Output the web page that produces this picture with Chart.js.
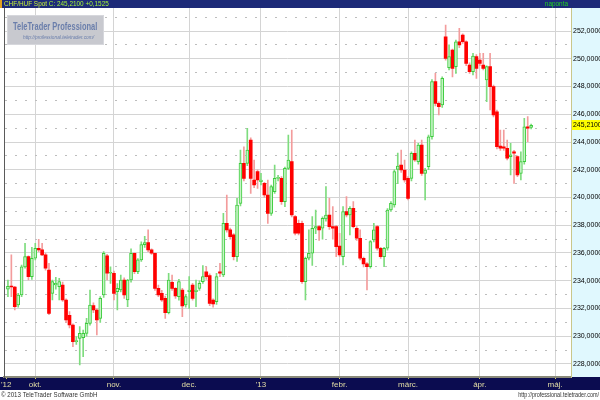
<!DOCTYPE html>
<html>
<head>
<meta charset="utf-8">
<title>CHF/HUF Spot</title>
<script src="https://cdn.jsdelivr.net/npm/chart.js@4.4.1/dist/chart.umd.min.js"></script>
<style>
  html, body { margin: 0; padding: 0; background: #fff; }
  #wrap { width: 600px; height: 400px; }
</style>
</head>
<body>
<div id="wrap"><canvas id="chart" width="600" height="400"></canvas></div>
<script>
// daily candles, 19 Sep 2012 .. 22 Apr 2013 (weekdays)
const opens = [
  233.40, 233.60, 233.55, 232.25, 232.97, 235.00, 235.74, 234.29, 235.62, 236.34,
  236.22, 235.86, 234.77, 233.09, 233.69, 233.57, 233.69, 232.61, 231.50, 230.81,
  229.61, 229.85, 229.90, 230.21, 230.93, 232.20, 231.89, 231.29, 232.97, 235.80,
  234.54, 234.54, 233.21, 233.33, 234.05, 232.61, 234.05, 235.98, 234.65, 235.50,
  236.60, 236.75, 236.22, 235.98, 233.45, 233.09, 232.73, 231.70, 233.89, 233.45,
  232.85, 233.33, 232.25, 233.21, 233.69, 233.21, 233.45, 233.93, 234.65, 234.37,
  232.61, 232.49, 234.65, 234.41, 238.14, 237.66, 237.30, 235.74, 239.58, 242.46,
  242.46, 244.14, 241.26, 241.86, 241.14, 241.02, 240.18, 238.86, 240.42, 241.38,
  241.38, 239.70, 242.10, 242.58, 238.62, 238.14, 238.14, 233.93, 235.62, 235.98,
  237.78, 237.90, 237.78, 238.45, 238.74, 237.90, 237.90, 236.50, 235.74, 238.98,
  238.74, 239.22, 237.78, 237.06, 235.62, 235.21, 235.01, 236.94, 237.90, 236.34,
  235.74, 236.34, 239.10, 239.46, 242.03, 242.34, 241.98, 241.38, 241.38, 243.18,
  242.58, 243.78, 241.74, 242.22, 244.38, 248.35, 246.79, 246.67, 251.59, 249.35,
  250.63, 249.43, 251.23, 251.71, 251.23, 249.55, 249.07, 250.15, 249.91, 249.55,
  248.47, 249.43, 247.99, 246.18, 243.71, 243.66, 243.55, 242.95, 243.30, 242.95,
  241.74, 242.58, 245.10, 245.06
];
const highs = [
  234.05, 235.86, 233.60, 233.10, 235.13, 236.70, 235.80, 236.40, 236.70, 236.99,
  236.70, 236.00, 235.26, 234.05, 234.25, 234.17, 233.90, 232.70, 231.77, 230.90,
  229.97, 230.69, 230.45, 231.29, 233.33, 232.40, 232.00, 232.85, 236.10, 235.90,
  235.00, 234.70, 233.80, 234.40, 234.20, 234.10, 236.30, 236.00, 235.60, 236.80,
  237.20, 237.66, 236.30, 236.00, 233.69, 233.30, 232.90, 234.54, 234.41, 233.50,
  234.10, 233.45, 233.00, 234.29, 233.81, 234.05, 234.00, 235.10, 235.01, 234.50,
  232.70, 234.54, 235.26, 238.86, 240.18, 237.80, 237.40, 239.94, 243.42, 243.66,
  244.99, 244.30, 242.70, 242.00, 241.74, 241.10, 241.26, 240.90, 242.34, 241.60,
  241.50, 242.20, 244.50, 244.86, 238.70, 238.38, 238.30, 235.70, 237.66, 238.62,
  239.10, 238.00, 238.60, 240.78, 239.94, 239.34, 238.00, 237.42, 239.34, 240.06,
  239.34, 239.70, 237.90, 237.66, 235.70, 235.30, 236.90, 238.14, 238.00, 236.40,
  236.40, 239.20, 239.70, 242.00, 243.20, 243.42, 242.70, 241.50, 243.30, 244.14,
  243.90, 244.14, 242.10, 244.50, 248.50, 248.95, 246.90, 248.70, 252.43, 251.00,
  250.70, 251.35, 252.19, 251.80, 251.30, 249.70, 250.39, 250.30, 250.39, 250.39,
  249.50, 250.39, 248.10, 246.30, 244.86, 244.86, 244.14, 243.90, 243.40, 243.00,
  243.30, 245.71, 245.83, 245.30
];
const lows = [
  232.85, 232.85, 231.89, 232.10, 232.85, 234.90, 234.05, 234.10, 235.50, 236.10,
  235.80, 234.77, 231.55, 232.61, 233.40, 232.61, 232.50, 231.00, 230.60, 229.25,
  229.40, 227.93, 228.53, 230.00, 230.80, 231.70, 230.09, 231.00, 232.80, 234.05,
  233.80, 232.61, 231.89, 233.20, 232.73, 232.13, 233.90, 234.50, 234.50, 235.40,
  236.40, 236.10, 235.90, 233.30, 232.85, 232.50, 231.29, 231.60, 233.30, 232.73,
  232.60, 231.40, 232.10, 232.00, 232.60, 232.13, 233.30, 233.80, 234.10, 232.20,
  232.10, 232.30, 234.29, 234.30, 237.50, 237.00, 235.50, 235.40, 239.40, 241.20,
  242.30, 240.30, 240.70, 240.66, 240.90, 240.00, 238.14, 238.70, 240.30, 241.20,
  239.50, 239.34, 242.00, 238.60, 237.30, 237.30, 233.80, 232.61, 235.50, 235.10,
  237.40, 236.90, 237.00, 238.30, 237.70, 237.00, 235.74, 235.74, 235.14, 238.60,
  237.30, 237.80, 236.90, 235.50, 235.00, 233.33, 234.90, 236.80, 236.20, 235.60,
  235.01, 236.20, 239.00, 239.30, 241.00, 241.80, 241.10, 239.82, 241.20, 242.60,
  242.40, 241.60, 239.82, 242.00, 244.20, 246.60, 245.95, 246.50, 249.90, 249.20,
  248.70, 248.95, 250.80, 251.10, 249.50, 248.95, 248.83, 248.59, 249.50, 249.19,
  246.90, 246.31, 245.80, 243.50, 243.40, 243.40, 242.70, 241.62, 241.02, 241.50,
  241.26, 242.40, 244.02, 244.95
];
const closes = [
  233.60, 233.55, 232.13, 232.97, 235.00, 235.74, 234.29, 235.62, 236.34, 236.22,
  235.86, 234.90, 231.65, 233.93, 233.81, 233.93, 232.61, 231.17, 230.81, 229.61,
  229.65, 230.21, 230.20, 230.93, 232.25, 231.89, 231.17, 232.73, 235.98, 234.54,
  234.60, 233.09, 233.45, 234.05, 232.97, 234.05, 235.98, 234.65, 235.50, 236.60,
  236.75, 236.22, 235.98, 233.45, 232.97, 232.61, 231.70, 234.05, 233.45, 232.90,
  233.93, 232.18, 232.85, 233.33, 232.73, 233.33, 233.81, 234.29, 234.29, 232.37,
  232.32, 234.29, 234.54, 238.14, 237.66, 237.18, 235.74, 239.46, 242.46, 241.38,
  243.42, 241.38, 240.90, 241.26, 241.26, 240.18, 238.86, 240.78, 241.38, 241.45,
  239.70, 242.10, 242.70, 238.74, 237.42, 237.42, 233.93, 235.62, 235.98, 237.78,
  237.90, 237.66, 238.50, 238.74, 237.90, 237.78, 236.46, 235.86, 238.98, 238.74,
  239.22, 237.90, 237.06, 235.62, 235.21, 235.01, 236.82, 237.66, 236.34, 235.74,
  236.34, 239.10, 239.58, 241.86, 242.27, 241.98, 241.26, 239.94, 243.18, 242.70,
  243.78, 241.74, 241.98, 244.38, 248.35, 246.79, 246.55, 248.59, 250.03, 250.15,
  249.31, 251.23, 250.99, 251.23, 249.67, 249.07, 250.20, 249.31, 249.67, 249.31,
  249.43, 247.99, 245.95, 243.66, 243.55, 243.55, 242.83, 243.07, 243.19, 241.62,
  242.58, 245.10, 244.99, 245.21
];

// month starts (candle index) and their labels on the time axis
const monthTicks = [-0.5, 8, 31, 53, 74, 97, 117, 138, 160];
const monthLabels = ["'12", 'okt.', 'nov.', 'dec.', "'13", 'febr.', 'márc.', 'ápr.', 'máj.'];
const priceTicks = [228, 230, 232, 234, 236, 238, 240, 242, 244, 246, 248, 250, 252];
const halfTicks = [227, 229, 231, 233, 235, 237, 239, 241, 243, 245, 247, 249, 251, 253];

const lastClose = 245.21;
const dayChange = 0.1525;

const FONT = "'Liberation Sans', Arial, sans-serif";
const fmt = v => v.toFixed(4).replace('.', ',');

const upWicks = [], downWicks = [], upBodies = [], downBodies = [];
closes.forEach((c, i) => {
    const o = opens[i];
    const up = c >= o;
    (up ? upWicks : downWicks).push({ x: i, y: [lows[i], highs[i]] });
    (up ? upBodies : downBodies).push({ x: i, y: [Math.min(o, c), Math.max(o, c)] });
});

// text squeezed horizontally, the original uses a narrow face
function narrowText(ctx, text, x, y, sx, align) {
    ctx.save();
    ctx.translate(x, y);
    ctx.scale(sx, 1);
    ctx.textAlign = align || 'left';
    ctx.fillText(text, 0, 0);
    ctx.restore();
}

const frame = {
    id: 'frame',
    beforeDraw(chart) {
        const { ctx, chartArea: a } = chart;
        ctx.save();
        ctx.fillStyle = '#ffffff';
        ctx.fillRect(0, 0, 600, 400);
        // header bar
        ctx.fillStyle = '#1d2a78';
        ctx.fillRect(0, 0, 600, a.top);
        ctx.fillStyle = '#e0a020';
        ctx.fillRect(0, 0, 2, a.top);
        // price axis panel
        ctx.fillStyle = '#e0f8fe';
        ctx.fillRect(a.right, a.top, 600 - a.right, a.bottom - a.top);
        // time axis bar
        ctx.fillStyle = '#0b0c50';
        ctx.fillRect(0, a.bottom, 600, 13);
        ctx.restore();
    },
    beforeDatasetsDraw(chart) {
        const { ctx } = chart;
        ctx.save();
        ctx.fillStyle = '#c8c9cf';
        ctx.fillRect(7, 15, 97, 30);
        ctx.setLineDash([1, 1]);
        ctx.strokeStyle = '#e4e4e8';
        ctx.strokeRect(7.5, 15.5, 96, 29);
        ctx.setLineDash([]);
        ctx.fillStyle = '#6a7eab';
        ctx.textBaseline = 'middle';
        ctx.font = 'bold 11px ' + FONT;
        narrowText(ctx, 'TeleTrader Professional', 13, 27, 0.68);
        ctx.font = 'italic 6px ' + FONT;
        narrowText(ctx, 'http://professional.teletrader.com/', 23, 37, 0.8);
        ctx.restore();
    },
    afterDraw(chart) {
        const { ctx, chartArea: a } = chart;
        const y = chart.scales.y.getPixelForValue(lastClose);
        ctx.save();
        ctx.textBaseline = 'middle';
        // last price marker
        ctx.fillStyle = '#ffff00';
        ctx.fillRect(a.right + 1, Math.round(y) - 5, 600 - a.right, 10);
        ctx.fillStyle = '#000000';
        ctx.font = '8px ' + FONT;
        narrowText(ctx, fmt(lastClose), a.right + 2, y, 0.86);
        // header texts
        ctx.font = '8px ' + FONT;
        ctx.fillStyle = '#c8f03a';
        narrowText(ctx, 'CHF/HUF Spot', 4, 4, 0.8);
        const w = ctx.measureText('CHF/HUF Spot ').width * 0.8;
        ctx.fillStyle = '#a6f838';
        narrowText(ctx, 'C: ' + fmt(lastClose) + ' +' + fmt(dayChange), 4 + w, 4, 0.8);
        ctx.fillStyle = '#22d022';
        narrowText(ctx, 'naponta', 568, 4, 0.8, 'right');
        // footer
        ctx.fillStyle = '#333333';
        ctx.font = '8px ' + FONT;
        narrowText(ctx, '\u00a9 2013 TeleTrader Software GmbH', 1, 395, 0.77);
        ctx.font = '7px ' + FONT;
        narrowText(ctx, 'http://professional.teletrader.com/', 599, 395, 0.78, 'right');
        ctx.restore();
    }
};

new Chart(document.getElementById('chart'), {
    type: 'bar',
    data: {
        datasets: [
            { data: upBodies, backgroundColor: '#c6f3c6', borderColor: '#3ccc3c', borderWidth: 1,
              borderSkipped: false, barThickness: 3, minBarLength: 1, order: 0 },
            { data: downBodies, backgroundColor: '#ff0000', borderWidth: 0,
              barThickness: 3, minBarLength: 1, order: 0 },
            { data: upWicks, backgroundColor: '#7edc7e', barThickness: 1, order: 1 },
            { data: downWicks, backgroundColor: '#f39c9c', barThickness: 1, order: 1 }
        ]
    },
    options: {
        responsive: false,
        animation: false,
        layout: { padding: { top: 8, left: 3, right: 0, bottom: 10 } },
        datasets: { bar: { grouped: false } },
        plugins: { legend: { display: false }, tooltip: { enabled: false } },
        scales: {
            x: {
                type: 'linear', min: -1.08, max: 164.66, bounds: 'data', offset: false,
                afterBuildTicks: s => { s.ticks = monthTicks.map(v => ({ value: v })); },
                afterFit: s => { s.height = 13; },
                grid: {
                    offset: false,
                    color: c => c.index === 0 ? 'rgba(0,0,0,0)' : '#d4d4d4',
                    tickLength: 2, tickColor: '#d8d070'
                },
                border: { color: '#8a8a7a', width: 2 },
                ticks: {
                    autoSkip: false, maxRotation: 0, padding: 1, color: '#e4dfa6',
                    font: { family: FONT, size: 8 },
                    callback: (v, i) => monthLabels[i]
                }
            },
            y: {
                position: 'right', min: 227.06, max: 253.66, bounds: 'data',
                afterBuildTicks: s => { s.ticks = priceTicks.map(v => ({ value: v })); },
                afterFit: s => { s.width = 29; },
                grid: { color: '#d4d4d4', drawTicks: false },
                border: { color: '#c9c78a', width: 1 },
                ticks: {
                    padding: 2, color: '#000000',
                    font: { family: FONT, size: 7 },
                    callback: v => fmt(v)
                }
            },
            y2: {
                position: 'left', min: 227.06, max: 253.66, bounds: 'data',
                afterBuildTicks: s => { s.ticks = halfTicks.map(v => ({ value: v })); },
                afterFit: s => { s.width = 0; },
                grid: { color: '#bdbdbd', drawTicks: false },
                border: { color: '#5a5a5a', width: 1, dash: [2, 8] },
                ticks: { display: false }
            }
        }
    },
    plugins: [frame]
});
</script>
</body>
</html>
